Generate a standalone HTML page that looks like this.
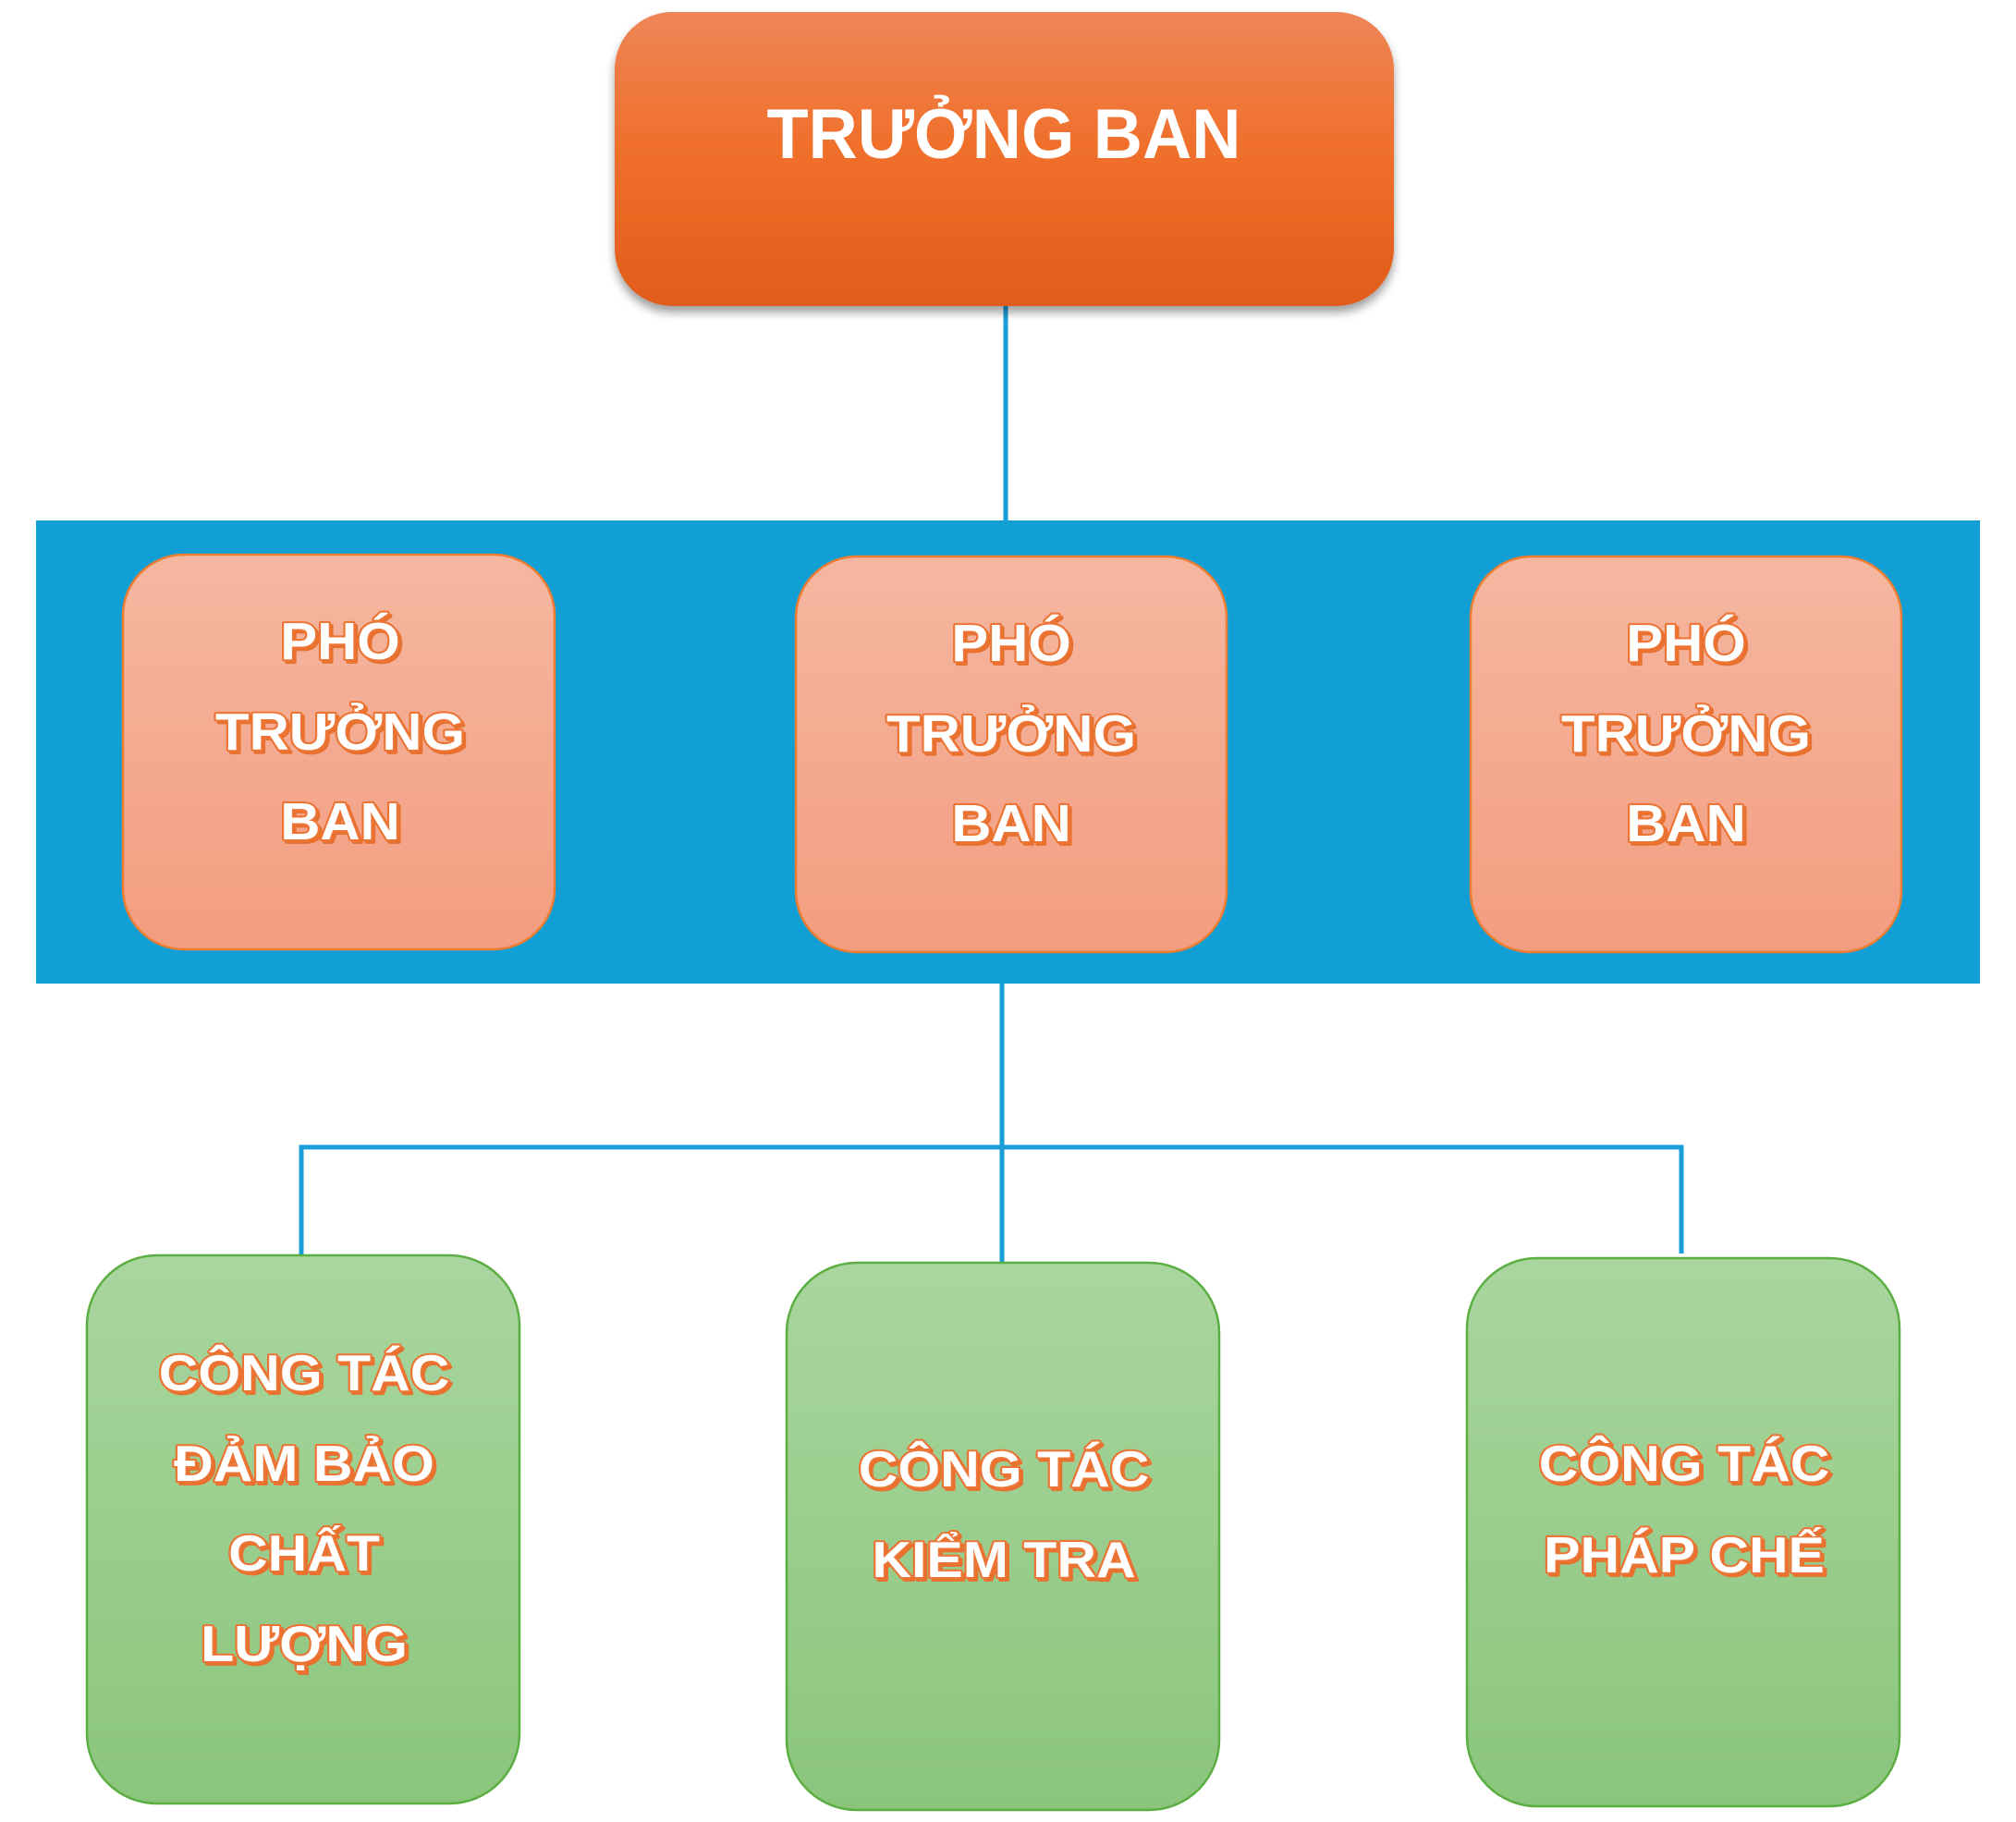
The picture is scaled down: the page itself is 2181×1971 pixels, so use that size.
<!DOCTYPE html>
<html>
<head>
<meta charset="utf-8">
<style>
  html,body{margin:0;padding:0;background:#fff;}
  svg{display:block;}
  .t{font-family:"Liberation Sans",Arial,sans-serif;text-anchor:middle;}
  .sh{fill:#E9712F;stroke:#E9712F;stroke-width:4;stroke-linejoin:round;}
  .mn{fill:#fff;stroke:#EC7535;stroke-width:4.5;stroke-linejoin:round;paint-order:stroke;}
</style>
</head>
<body>
<svg width="2181" height="1971" viewBox="0 0 2181 1971" xmlns="http://www.w3.org/2000/svg">
  <defs>
    <linearGradient id="gTop" x1="0" y1="0" x2="0" y2="1">
      <stop offset="0" stop-color="#EE8557"/>
      <stop offset="0.45" stop-color="#F0702C"/>
      <stop offset="1" stop-color="#E05C1A"/>
    </linearGradient>
    <linearGradient id="gPink" x1="0" y1="0" x2="0" y2="1">
      <stop offset="0" stop-color="#F5B7A1"/>
      <stop offset="1" stop-color="#F39D7F"/>
    </linearGradient>
    <linearGradient id="gGreen" x1="0" y1="0" x2="0" y2="1">
      <stop offset="0" stop-color="#A9D69F"/>
      <stop offset="1" stop-color="#8BC57C"/>
    </linearGradient>
    <filter id="shadow" x="-5%" y="-5%" width="110%" height="120%">
      <feDropShadow dx="0" dy="7" stdDeviation="5" flood-color="#000" flood-opacity="0.38"/>
    </filter>
  </defs>

  <!-- connectors -->
  <line x1="1088" y1="325" x2="1088" y2="566" stroke="#1A9ED8" stroke-width="5"/>
  <line x1="1084" y1="1060" x2="1084" y2="1368" stroke="#1A9ED8" stroke-width="5"/>
  <polyline points="326,1360 326,1241 1819,1241 1819,1356" fill="none" stroke="#1A9ED8" stroke-width="5"/>

  <!-- top box -->
  <rect x="665" y="13" width="843" height="318" rx="62" ry="62" fill="url(#gTop)" filter="url(#shadow)"/>
  <g transform="translate(1086,171) scale(0.97,1)">
    <text class="t" x="0" y="0" font-size="76" font-weight="bold" fill="#ffffff">TRƯỞNG BAN</text>
  </g>

  <!-- blue band -->
  <rect x="39" y="563" width="2103" height="501" fill="#119FD6"/>

  <!-- pink boxes -->
  <rect x="133" y="600" width="467" height="427" rx="66" ry="66" fill="url(#gPink)" stroke="#ED7D31" stroke-width="2.5"/>
  <rect x="861" y="602" width="466" height="428" rx="66" ry="66" fill="url(#gPink)" stroke="#ED7D31" stroke-width="2.5"/>
  <rect x="1591" y="602" width="466" height="428" rx="66" ry="66" fill="url(#gPink)" stroke="#ED7D31" stroke-width="2.5"/>

  <!-- pink box texts -->
  <g class="t" font-size="61" font-weight="bold">
    <!-- box 1 -->
    <g transform="translate(368,713) scale(0.98,0.92)"><text class="sh" x="3" y="3">PHÓ</text><text class="mn" x="0" y="0">PHÓ</text></g>
    <g transform="translate(368,811) scale(0.98,0.92)"><text class="sh" x="3" y="3">TRƯỞNG</text><text class="mn" x="0" y="0">TRƯỞNG</text></g>
    <g transform="translate(368,908) scale(0.98,0.92)"><text class="sh" x="3" y="3">BAN</text><text class="mn" x="0" y="0">BAN</text></g>
    <!-- box 2 -->
    <g transform="translate(1094,715) scale(0.98,0.92)"><text class="sh" x="3" y="3">PHÓ</text><text class="mn" x="0" y="0">PHÓ</text></g>
    <g transform="translate(1094,813) scale(0.98,0.92)"><text class="sh" x="3" y="3">TRƯỞNG</text><text class="mn" x="0" y="0">TRƯỞNG</text></g>
    <g transform="translate(1094,910) scale(0.98,0.92)"><text class="sh" x="3" y="3">BAN</text><text class="mn" x="0" y="0">BAN</text></g>
    <!-- box 3 -->
    <g transform="translate(1824,715) scale(0.98,0.92)"><text class="sh" x="3" y="3">PHÓ</text><text class="mn" x="0" y="0">PHÓ</text></g>
    <g transform="translate(1824,813) scale(0.98,0.92)"><text class="sh" x="3" y="3">TRƯỞNG</text><text class="mn" x="0" y="0">TRƯỞNG</text></g>
    <g transform="translate(1824,910) scale(0.98,0.92)"><text class="sh" x="3" y="3">BAN</text><text class="mn" x="0" y="0">BAN</text></g>
  </g>

  <!-- green boxes -->
  <rect x="94" y="1358" width="468" height="593" rx="76" ry="76" fill="url(#gGreen)" stroke="#5BAE42" stroke-width="2.5"/>
  <rect x="851" y="1366" width="468" height="592" rx="76" ry="76" fill="url(#gGreen)" stroke="#5BAE42" stroke-width="2.5"/>
  <rect x="1587" y="1361" width="468" height="593" rx="76" ry="76" fill="url(#gGreen)" stroke="#5BAE42" stroke-width="2.5"/>

  <!-- green box texts -->
  <g class="t" font-size="59" font-weight="bold">
    <!-- box 1 -->
    <g transform="translate(329,1504) scale(1,0.93)"><text class="sh" x="3" y="3">CÔNG TÁC</text><text class="mn" x="0" y="0">CÔNG TÁC</text></g>
    <g transform="translate(329,1602) scale(1,0.93)"><text class="sh" x="3" y="3">ĐẢM BẢO</text><text class="mn" x="0" y="0">ĐẢM BẢO</text></g>
    <g transform="translate(329,1699) scale(1,0.93)"><text class="sh" x="3" y="3">CHẤT</text><text class="mn" x="0" y="0">CHẤT</text></g>
    <g transform="translate(329,1797) scale(1,0.93)"><text class="sh" x="3" y="3">LƯỢNG</text><text class="mn" x="0" y="0">LƯỢNG</text></g>
    <!-- box 2 -->
    <g transform="translate(1086,1608) scale(1,0.93)"><text class="sh" x="3" y="3">CÔNG TÁC</text><text class="mn" x="0" y="0">CÔNG TÁC</text></g>
    <g transform="translate(1086,1706) scale(1,0.93)"><text class="sh" x="3" y="3">KIỂM TRA</text><text class="mn" x="0" y="0">KIỂM TRA</text></g>
    <!-- box 3 -->
    <g transform="translate(1822,1602) scale(1,0.93)"><text class="sh" x="3" y="3">CÔNG TÁC</text><text class="mn" x="0" y="0">CÔNG TÁC</text></g>
    <g transform="translate(1822,1701) scale(1,0.93)"><text class="sh" x="3" y="3">PHÁP CHẾ</text><text class="mn" x="0" y="0">PHÁP CHẾ</text></g>
  </g>
</svg>
</body>
</html>
